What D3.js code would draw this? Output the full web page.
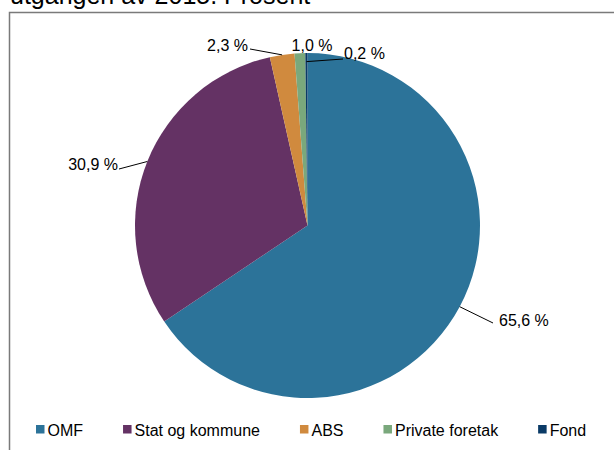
<!DOCTYPE html>
<html>
<head>
<meta charset="utf-8">
<script src="https://cdn.jsdelivr.net/npm/d3@7"></script>
<style>
    body { margin: 0; background: #fff; }
    text { font-family: "Liberation Sans", Arial, Helvetica, sans-serif; }
</style>
</head>
<body>
<svg id="chart"></svg>
<script>
const categories = ["OMF", "Stat og kommune", "ABS", "Private foretak", "Fond"];
const values = [65.6, 30.9, 2.3, 1.0, 0.2];
const valueLabels = ["65,6 %", "30,9 %", "2,3 %", "1,0 %", "0,2 %"];
const colors = ["#2c7399", "#643264", "#d08a3e", "#7aa87c", "#0a3a66"];
const titleText = "utgangen av 2015. Prosent";

const width = 614;
const height = 450;
const cx = 307.5;
const cy = 225.5;
const radius = 172.5;

// where each label sits (x, baseline y, anchor), and where its leader line ends
const labelPos = [
    { x: 499, y: 326, anchor: "start", lx: 493, ly: 323, r0: 1 },
    { x: 118, y: 170, anchor: "end", lx: 119, ly: 169, r0: 1 },
    { x: 248, y: 51, anchor: "end", lx: 250, ly: 49, r0: 1 },
    { x: 312, y: 51, anchor: "middle", lx: null, ly: null, r0: 1 },
    { x: 344, y: 59, anchor: "start", lx: 343, ly: 59, r0: 0.95 }
];

const svg = d3.select("#chart")
    .attr("width", width)
    .attr("height", height);

// title, cut off by the top of the picture
svg.append("text")
    .attr("x", 10)
    .attr("y", 4)
    .attr("font-size", 25)
    .attr("fill", "#000")
    .text(titleText);

// chart frame (runs off the right and bottom edges)
svg.append("rect")
    .attr("x", 9.5)
    .attr("y", 12.5)
    .attr("width", 620)
    .attr("height", 460)
    .attr("fill", "none")
    .attr("stroke", "#7a7a7a")
    .attr("stroke-width", 1.5);

const data = categories.map((c, i) => ({ name: c, value: values[i], label: valueLabels[i], color: colors[i] }));

const pie = d3.pie()
    .value(d => d.value)
    .sort(null);

const arc = d3.arc()
    .innerRadius(0)
    .outerRadius(radius);

const arcs = pie(data);

const g = svg.append("g")
    .attr("transform", `translate(${cx},${cy})`);

g.selectAll("path")
    .data(arcs)
    .enter()
    .append("path")
    .attr("d", arc)
    .attr("fill", d => d.data.color);

// leader lines from the slice edge to the label
arcs.forEach((d, i) => {
    const p = labelPos[i];
    if (p.lx === null) return;
    const mid = (d.startAngle + d.endAngle) / 2;
    const r = radius * p.r0;
    svg.append("line")
        .attr("x1", cx + r * Math.sin(mid))
        .attr("y1", cy - r * Math.cos(mid))
        .attr("x2", p.lx)
        .attr("y2", p.ly)
        .attr("stroke", "#000")
        .attr("stroke-width", 1);
});

svg.selectAll("text.val")
    .data(arcs)
    .enter()
    .append("text")
    .attr("class", "val")
    .attr("x", (d, i) => labelPos[i].x)
    .attr("y", (d, i) => labelPos[i].y)
    .attr("text-anchor", (d, i) => labelPos[i].anchor)
    .attr("font-size", 16)
    .attr("fill", "#000")
    .text(d => d.data.label);

// legend along the bottom
const legend = svg.append("g");
let lx = 36;
data.forEach(d => {
    legend.append("rect")
        .attr("x", lx)
        .attr("y", 425)
        .attr("width", 8.5)
        .attr("height", 8.5)
        .attr("fill", d.color);
    const t = legend.append("text")
        .attr("x", lx + 11.5)
        .attr("y", 435.5)
        .attr("font-size", 16)
        .attr("fill", "#000")
        .text(d.name);
    lx += 11.5 + t.node().getComputedTextLength() + 40;
});
</script>
</body>
</html>
